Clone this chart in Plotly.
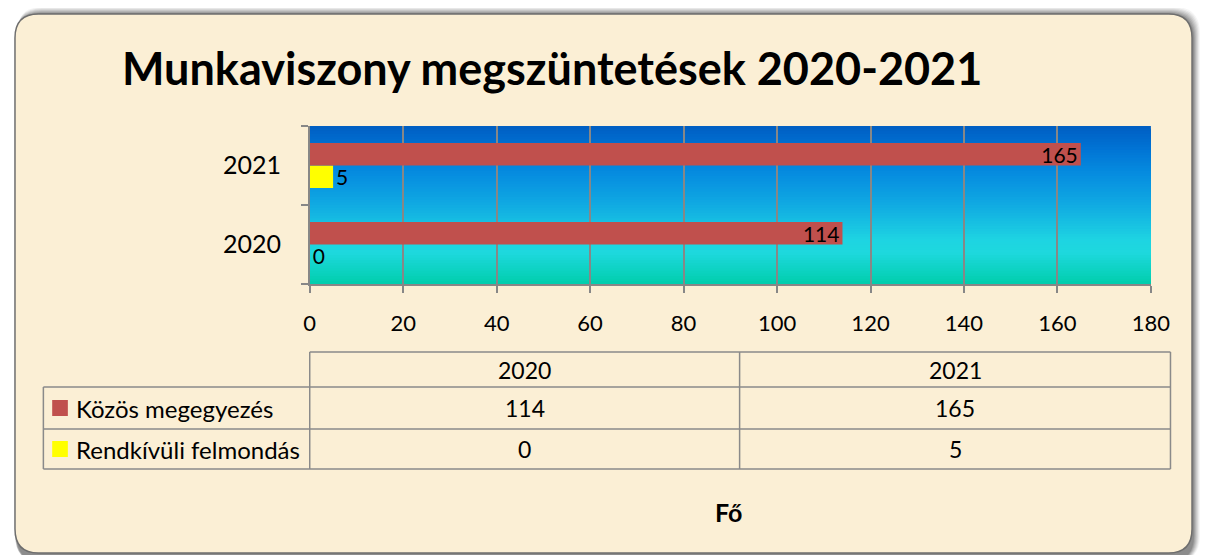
import plotly.graph_objects as go

# ---------------- data ----------------
years = ["2020", "2021"]
series_names = ["Közös megegyezés", "Rendkívüli felmondás"]
kozos = [114, 165]
rendkivuli = [0, 5]
x_ticks = [0, 20, 40, 60, 80, 100, 120, 140, 160, 180]
title_text = "Munkaviszony megszüntetések 2020-2021"
unit_text = "Fő"

# ---------------- style ----------------
PAGE_W, PAGE_H = 1212, 555
OFF = 8                      # default body margin of the page
W, H = PAGE_W - OFF, PAGE_H - OFF
RED = "#C0504D"
YELLOW = "#FFFF00"
GRID = "#878787"
CREAM = "#FBEFD5"
FONT = "Lato"

def px(x):
    return (x - OFF) / W

def py(y):
    return 1 - (y - OFF) / H

def rrect_path(x0, y0, x1, y1, r):
    pts = [
        f"M {px(x0 + r)} {py(y0)}",
        f"L {px(x1 - r)} {py(y0)}",
        f"Q {px(x1)} {py(y0)} {px(x1)} {py(y0 + r)}",
        f"L {px(x1)} {py(y1 - r)}",
        f"Q {px(x1)} {py(y1)} {px(x1 - r)} {py(y1)}",
        f"L {px(x0 + r)} {py(y1)}",
        f"Q {px(x0)} {py(y1)} {px(x0)} {py(y1 - r)}",
        f"L {px(x0)} {py(y0 + r)}",
        f"Q {px(x0)} {py(y0)} {px(x0 + r)} {py(y0)}",
        "Z",
    ]
    return " ".join(pts)

shapes = []
# soft shadow above the frame
for i, op in enumerate([0.05, 0.07, 0.09, 0.11, 0.13, 0.16, 0.2]):
    off = 7 - i
    shapes.append(dict(type="path", xref="paper", yref="paper", layer="below",
                       path=rrect_path(9 + off * 0.3, 14 - off, 1212 + off, 562, 26),
                       fillcolor=f"rgba(60,60,60,{op})", line=dict(width=0)))
# frame
shapes.append(dict(type="path", xref="paper", yref="paper", layer="below",
                   path=rrect_path(9, 14, 1211, 553, 24),
                   fillcolor=CREAM, line=dict(color="#6E6E6E", width=1.5)))

# gradient plot background
stops = [(0.0, (0, 94, 194)), (0.12, (0, 112, 210)), (0.3, (6, 140, 224)),
         (0.5, (16, 170, 226)), (0.72, (30, 212, 226)), (0.8, (30, 216, 222)),
         (1.0, (0, 206, 172))]

def col_at(t):
    for (t0, c0), (t1, c1) in zip(stops[:-1], stops[1:]):
        if t0 <= t <= t1:
            f = (t - t0) / (t1 - t0) if t1 > t0 else 0
            return tuple(round(a + (b - a) * f) for a, b in zip(c0, c1))
    return stops[-1][1]

N = 60
for i in range(N):
    t_top = i / N
    c = col_at(t_top + 0.5 / N)
    shapes.append(dict(type="rect", xref="x domain", yref="y domain", layer="below",
                       x0=0, x1=1, y0=0, y1=1 - t_top,
                       fillcolor=f"rgb{c}", line=dict(width=0)))

# table lines
tl = dict(color="#8A8A8A", width=1.5)
tx0, tx1, tx2, tx3 = 38, 310, 749, 1189
ty0, ty1, ty2, ty3 = 352, 387, 429, 469
for (a, b, c, d) in [
    (tx1, ty0, tx3, ty0), (tx0, ty1, tx3, ty1), (tx0, ty2, tx3, ty2), (tx0, ty3, tx3, ty3),
    (tx0, ty1, tx0, ty3), (tx1, ty0, tx1, ty3), (tx2, ty0, tx2, ty3), (tx3, ty0, tx3, ty3),
]:
    shapes.append(dict(type="line", xref="paper", yref="paper",
                       x0=px(a), y0=py(b), x1=px(c), y1=py(d), line=tl))

# legend keys in the table
series_colors = [RED, YELLOW]
row_centers = [(ty1 + ty2) / 2, (ty2 + ty3) / 2]
for colr, yc in zip(series_colors, row_centers):
    shapes.append(dict(type="rect", xref="paper", yref="paper",
                       x0=px(47), x1=px(63), y0=py(yc + 8), y1=py(yc - 8),
                       fillcolor=colr, line=dict(width=0)))

annotations = []
annotations.append(dict(text=f"<b>{title_text}</b>", xref="paper", yref="paper",
                        x=px(557), y=py(68), xanchor="center", yanchor="middle",
                        showarrow=False, font=dict(family=FONT, size=45, color="black")))
col_centers = [(tx1 + tx2) / 2, (tx2 + tx3) / 2]
for yr, xc in zip(years, col_centers):
    annotations.append(dict(text=yr, xref="paper", yref="paper", x=px(xc), y=py((ty0 + ty1) / 2),
                            xanchor="center", yanchor="middle", showarrow=False,
                            font=dict(family=FONT, size=23, color="black")))
for name, vals, yc in zip(series_names, [kozos, rendkivuli], row_centers):
    annotations.append(dict(text=name, xref="paper", yref="paper", x=px(69), y=py(yc),
                            xanchor="left", yanchor="middle", showarrow=False,
                            font=dict(family=FONT, size=24, color="black")))
    for v, xc in zip(vals, col_centers):
        annotations.append(dict(text=str(v), xref="paper", yref="paper", x=px(xc), y=py(yc),
                                xanchor="center", yanchor="middle", showarrow=False,
                                font=dict(family=FONT, size=23, color="black")))
annotations.append(dict(text=f"<b>{unit_text}</b>", xref="paper", yref="paper",
                        x=px(738), y=py(512), xanchor="center", yanchor="middle",
                        showarrow=False, font=dict(family=FONT, size=25, color="black")))

fig = go.Figure()
fig.add_trace(go.Bar(
    y=years, x=rendkivuli, orientation="h", name=series_names[1],
    marker=dict(color=YELLOW, line=dict(width=0)),
    text=[str(v) for v in rendkivuli], textposition="outside", cliponaxis=False,
    constraintext="none",
    textfont=dict(family=FONT, size=21, color="black"),
))
fig.add_trace(go.Bar(
    y=years, x=kozos, orientation="h", name=series_names[0],
    marker=dict(color=RED, line=dict(width=0)),
    text=[str(v) for v in kozos], textposition="inside", insidetextanchor="end",
    constraintext="none",
    textfont=dict(family=FONT, size=21, color="black"),
))

fig.update_layout(
    width=W, height=H, autosize=False,
    margin=dict(l=0, r=0, t=0, b=0),
    paper_bgcolor="white", plot_bgcolor="rgba(0,0,0,0)",
    barmode="group", bargap=0.43, bargroupgap=0,
    showlegend=False,
    shapes=shapes, annotations=annotations,
    xaxis=dict(domain=[px(310), px(1169)], range=[0, 180], tickvals=x_ticks,
               showgrid=True, gridcolor=GRID, gridwidth=1.5, zeroline=False,
               showline=True, linecolor=GRID, linewidth=1.5,
               ticks="outside", ticklen=7, tickcolor=GRID, tickwidth=1.5,
               ticklabelstandoff=12,
               tickfont=dict(family=FONT, size=22, color="black"), fixedrange=True),
    yaxis=dict(domain=[py(284), py(126)], type="category", categoryorder="array",
               categoryarray=years, tickson="boundaries",
               showgrid=False, showline=True, linecolor=GRID, linewidth=1.5,
               ticks="outside", ticklen=7, tickcolor=GRID, tickwidth=1.5,
               ticklabelstandoff=22,
               tickfont=dict(family=FONT, size=25, color="black"), fixedrange=True),
    font=dict(family=FONT, color="black"),
)

fig.write_html("out.html")
